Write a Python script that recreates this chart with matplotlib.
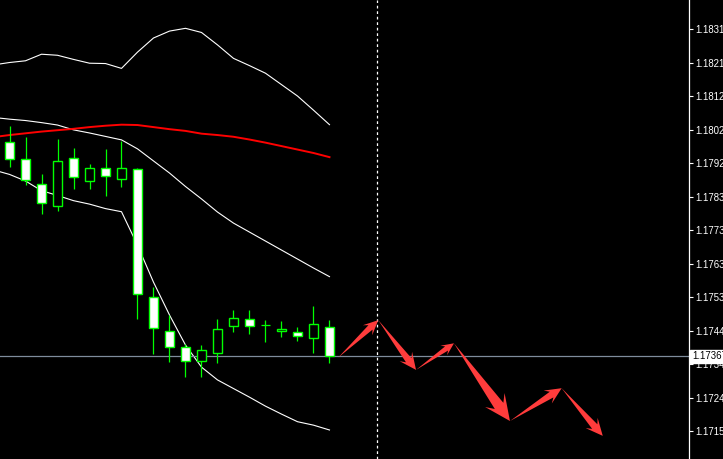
import matplotlib
matplotlib.use("Agg")
import matplotlib.pyplot as plt
from matplotlib.patches import Rectangle, Polygon
import numpy as np

# candles (bar index, OHLC)
bar_idx = list(range(21))
opens = [1.17987, 1.17938, 1.17865, 1.17802, 1.17941, 1.17874, 1.17914, 1.17880, 1.17909, 1.17538, 1.17442,
         1.17393, 1.17353, 1.17376, 1.17454, 1.17474, 1.17458, 1.17441, 1.17437, 1.17419, 1.17451]
highs = [1.18034, 1.18001, 1.17895, 1.17996, 1.17970, 1.17924, 1.17967, 1.17991, 1.17914, 1.17567, 1.17487,
         1.17403, 1.17399, 1.17474, 1.17500, 1.17500, 1.17472, 1.17469, 1.17453, 1.17513, 1.17472]
lows = [1.17916, 1.17864, 1.17778, 1.17789, 1.17851, 1.17851, 1.17831, 1.17857, 1.17474, 1.17373, 1.17350,
        1.17306, 1.17306, 1.17347, 1.17438, 1.17431, 1.17409, 1.17424, 1.17412, 1.17378, 1.17349]
closes = [1.17938, 1.17877, 1.17810, 1.17932, 1.17886, 1.17914, 1.17888, 1.17914, 1.17547, 1.17448, 1.17393,
          1.17353, 1.17385, 1.17445, 1.17477, 1.17454, 1.17458, 1.17445, 1.17427, 1.17461, 1.17367]

# bollinger bands + red moving average
band_idx = list(range(-1, 21))
upper = [1.18211, 1.18218, 1.18223, 1.18242, 1.18239, 1.18227, 1.18216, 1.18215, 1.18201, 1.18248, 1.18289, 1.18309,
         1.18317, 1.18305, 1.18269, 1.18230, 1.18209, 1.18187, 1.18154, 1.18121, 1.18080, 1.18038]
middle = [1.18059, 1.18054, 1.18050, 1.18044, 1.18037, 1.18023, 1.18014, 1.18004, 1.17994, 1.17968, 1.17933, 1.17898,
          1.17859, 1.17823, 1.17785, 1.17753, 1.17727, 1.17701, 1.17675, 1.17649, 1.17623, 1.17598]
lower = [1.17907, 1.17894, 1.17875, 1.17847, 1.17833, 1.17818, 1.17808, 1.17795, 1.17786, 1.17689, 1.17582, 1.17487,
         1.17400, 1.17336, 1.17299, 1.17274, 1.17249, 1.17223, 1.17200, 1.17178, 1.17168, 1.17154]
ma_red = [1.18002, 1.18008, 1.18013, 1.18018, 1.18022, 1.18026, 1.18031, 1.18035, 1.18038, 1.18037, 1.18031, 1.18025,
          1.18020, 1.18012, 1.18008, 1.18003, 1.17995, 1.17986, 1.17976, 1.17966, 1.17956, 1.17944]

price_ticks = [1.17151, 1.17248, 1.17345, 1.17442, 1.17539, 1.17636, 1.17733,
               1.17830, 1.17927, 1.18024, 1.18121, 1.18218, 1.18315]
current_price = 1.17367
shift_bar = 23

# forecast arrows path
arrow_x = [20.55, 23.05, 25.41, 27.78, 31.28, 34.51, 37.08]
arrow_y = [1.17364, 1.17472, 1.17328, 1.17405, 1.17180, 1.17275, 1.17137]

LIME = '#00ff00'

fig = plt.figure(figsize=(7.23, 4.59), dpi=100, facecolor='black')
ax = fig.add_axes([0, 0, 689 / 723, 1])
ax.set_facecolor('black')
ax.set_xlim(-0.594, 42.47)
ax.set_ylim(1.17070, 1.18399)

ax.plot(band_idx, upper, color='white', lw=0.8)
ax.plot(band_idx, middle, color='white', lw=0.8)
ax.plot(band_idx, lower, color='white', lw=0.8)
ax.plot(band_idx, ma_red, color='red', lw=1.4)

for i, o, h, l, c in zip(bar_idx, opens, highs, lows, closes):
    ax.vlines(i, l, h, color=LIME, lw=0.9, zorder=3)
    if abs(c - o) < 1e-6:
        ax.hlines(o, i - 0.31, i + 0.31, color=LIME, lw=0.9, zorder=4)
    else:
        fc = 'white' if c < o else 'black'
        ax.add_patch(Rectangle((i - 0.31, min(o, c)), 0.62, abs(c - o),
                               facecolor=fc, edgecolor=LIME, lw=1.0, zorder=4))

ax.axhline(current_price, color='#7f8c9c', lw=0.9, zorder=2)
ax.axvline(shift_bar, color='white', lw=0.9, ls=(0, (2.2, 2.2)), zorder=2)


def draw_arrow(x0, y0, x1, y1):
    # tapered shaft with barbed head, sized in pixels
    p0 = ax.transData.transform((x0, y0))
    p1 = ax.transData.transform((x1, y1))
    d = p1 - p0
    L = np.hypot(*d)
    u = d / L
    n = np.array([-u[1], u[0]])
    hl = 0.27 * L
    corner = p1 - u * hl
    join = p1 - u * 0.72 * hl
    hw, tw = 0.125 * L, 0.055 * L
    pts = np.array([p0, join + n * tw, corner + n * hw, p1, corner - n * hw, join - n * tw])
    pts = ax.transData.inverted().transform(pts)
    ax.add_patch(Polygon(pts, closed=True, facecolor='#ff3c3c', edgecolor='none', zorder=5))


for k in range(len(arrow_x) - 1):
    draw_arrow(arrow_x[k], arrow_y[k], arrow_x[k + 1], arrow_y[k + 1])

ax.yaxis.tick_right()
ax.set_yticks(price_ticks)
ax.set_yticklabels(['%.5f' % p for p in price_ticks])
ax.set_xticks([])
ax.tick_params(axis='y', colors='white', labelsize=6.9, length=3, width=0.8, pad=1.2)
for s in ['top', 'left', 'bottom']:
    ax.spines[s].set_visible(False)
ax.spines['right'].set_color('white')
ax.spines['right'].set_linewidth(0.9)
for t in ax.get_yticklabels():
    t.set_fontfamily('Liberation Sans')

ax.annotate('%.5f' % current_price, xy=(1.0, current_price), xycoords=('axes fraction', 'data'),
            xytext=(2.2, 0), textcoords='offset points', ha='left', va='center',
            fontsize=6.9, family='Liberation Sans', color='black', zorder=10, annotation_clip=False,
            bbox=dict(boxstyle='square,pad=0.2', fc='white', ec='white'))

fig.savefig('out.png', dpi=100, facecolor='black')
